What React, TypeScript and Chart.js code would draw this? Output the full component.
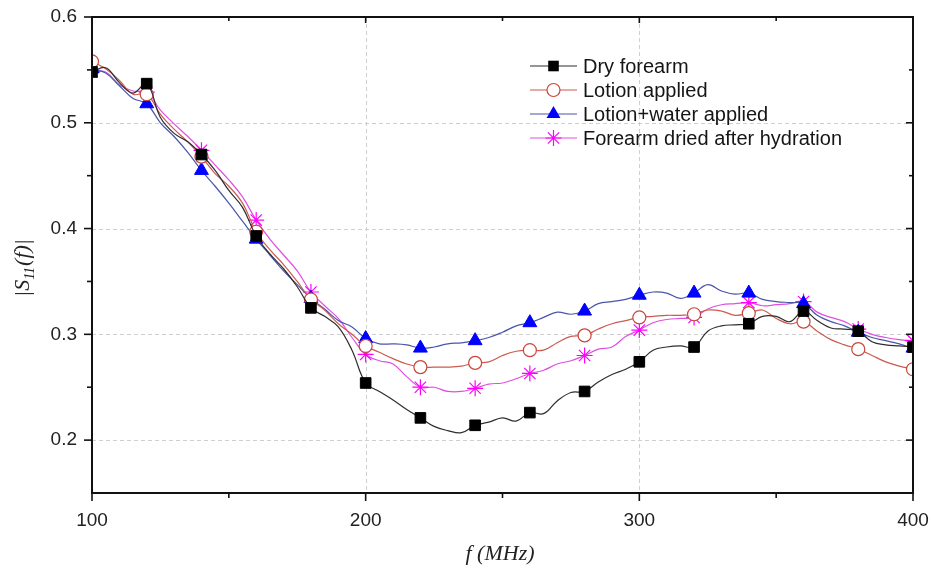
import React, { useEffect, useRef } from "react";
import { Chart, registerables } from "chart.js";
Chart.register(...registerables);

const frequencies = [
  100, 105, 110, 115, 120, 125, 130, 135, 140, 145, 150, 155, 160, 165, 170, 175, 180, 185, 190, 195,
  200, 205, 210, 215, 220, 225, 230, 235, 240, 245, 250, 255, 260, 265, 270, 275, 280, 285, 290, 295,
  300, 305, 310, 315, 320, 325, 330, 335, 340, 345, 350, 355, 360, 365, 370, 375, 380, 385, 390, 395, 400,
];

const dryForearm = [
  0.548, 0.552, 0.538, 0.528, 0.537, 0.505, 0.49, 0.482, 0.47, 0.455, 0.436, 0.42, 0.393, 0.376, 0.362, 0.345, 0.325, 0.317, 0.307, 0.285,
  0.254, 0.246, 0.238, 0.229, 0.221, 0.213, 0.209, 0.207, 0.214, 0.217, 0.221, 0.218, 0.226, 0.225, 0.237, 0.245, 0.246, 0.255, 0.262, 0.267,
  0.274, 0.285, 0.288, 0.289, 0.288, 0.303, 0.308, 0.309, 0.31, 0.317, 0.317, 0.312, 0.322, 0.313, 0.306, 0.305, 0.303, 0.293, 0.29, 0.289, 0.288,
];

const lotionApplied = [
  0.558, 0.551, 0.54, 0.527, 0.527, 0.508, 0.494, 0.482, 0.468, 0.452, 0.44, 0.424, 0.397, 0.38, 0.366, 0.35, 0.333, 0.323, 0.31, 0.3,
  0.289, 0.283, 0.277, 0.272, 0.269, 0.269, 0.269, 0.27, 0.273, 0.274, 0.28, 0.284, 0.285, 0.285, 0.292, 0.298, 0.299, 0.305, 0.31, 0.313,
  0.316, 0.317, 0.318, 0.318, 0.319, 0.323, 0.322, 0.318, 0.32, 0.323, 0.315, 0.31, 0.312, 0.303, 0.295, 0.29, 0.286, 0.28, 0.274, 0.27, 0.267,
];

const lotionWaterApplied = [
  0.551, 0.547, 0.535, 0.523, 0.518, 0.5, 0.487, 0.472, 0.455, 0.44, 0.424, 0.407, 0.39, 0.375, 0.36, 0.347, 0.334, 0.324, 0.313, 0.307,
  0.296, 0.291, 0.291, 0.29, 0.287, 0.288, 0.291, 0.292, 0.294, 0.297, 0.302, 0.308, 0.311, 0.316, 0.321, 0.319, 0.322, 0.329, 0.331, 0.333,
  0.337, 0.34, 0.339, 0.334, 0.339, 0.347, 0.341, 0.338, 0.339, 0.333, 0.331, 0.33, 0.329, 0.318, 0.312, 0.308, 0.302, 0.297, 0.294, 0.291, 0.287,
];

const driedAfterHydration = [
  0.548, 0.548, 0.536, 0.53, 0.529, 0.512, 0.499, 0.487, 0.474, 0.46, 0.446, 0.43, 0.408, 0.39, 0.375, 0.36, 0.34, 0.327, 0.315, 0.297,
  0.281, 0.275, 0.272, 0.26, 0.25, 0.25, 0.246, 0.246, 0.249, 0.253, 0.254, 0.258, 0.263, 0.266, 0.272, 0.275, 0.28, 0.286, 0.288, 0.298,
  0.304, 0.311, 0.314, 0.315, 0.316, 0.324, 0.328, 0.329, 0.33, 0.327, 0.328, 0.329, 0.331, 0.321, 0.316, 0.312, 0.305, 0.3, 0.297, 0.295, 0.294,
];

const markerFrequencies = [100, 120, 140, 160, 180, 200, 220, 240, 260, 280, 300, 320, 340, 360, 380, 400];
const seriesNames = ["Dry forearm", "Lotion applied", "Lotion+water applied", "Forearm dried after hydration"];
const xMajorTicks = [100, 200, 300, 400];
const xMinorTicks = [150, 250, 350];
const yMajorTicks = [0.2, 0.3, 0.4, 0.5, 0.6];
const yMinorTicks = [0.25, 0.35, 0.45, 0.55];
const xGridValues = [200, 300];
const yGridValues = [0.2, 0.3, 0.4, 0.5];

type Style = {
  line: string;
  shape: string;
  radius: number;
  fill: string;
  stroke: string;
  strokeWidth: number;
};

const styles: Style[] = [
  { line: "#2e2e2e", shape: "rect", radius: 7.5, fill: "#000000", stroke: "#000000", strokeWidth: 1 },
  { line: "#cc5a50", shape: "circle", radius: 6.5, fill: "#ffffff", stroke: "#c8463c", strokeWidth: 1.2 },
  { line: "#4a55a8", shape: "triangle", radius: 8, fill: "#0000ff", stroke: "#0000ff", strokeWidth: 1 },
  { line: "#e050e0", shape: "star", radius: 8, fill: "#ff00ff", stroke: "#ff00ff", strokeWidth: 1.2 },
];

function drawMarker(ctx: CanvasRenderingContext2D, s: Style, x: number, y: number) {
  ctx.save();
  ctx.fillStyle = s.fill;
  ctx.strokeStyle = s.stroke;
  ctx.lineWidth = s.strokeWidth;
  const r = s.radius;
  ctx.beginPath();
  if (s.shape === "rect") {
    const h = Math.SQRT1_2 * r;
    ctx.rect(x - h, y - h, 2 * h, 2 * h);
    ctx.fill();
  } else if (s.shape === "circle") {
    ctx.arc(x, y, r, 0, Math.PI * 2);
    ctx.fill();
    ctx.stroke();
  } else if (s.shape === "triangle") {
    ctx.moveTo(x, y - r);
    ctx.lineTo(x + r * 0.866, y + r * 0.5);
    ctx.lineTo(x - r * 0.866, y + r * 0.5);
    ctx.closePath();
    ctx.fill();
  } else {
    for (let k = 0; k < 4; k++) {
      const a = (k * Math.PI) / 4;
      ctx.moveTo(x - r * Math.cos(a), y - r * Math.sin(a));
      ctx.lineTo(x + r * Math.cos(a), y + r * Math.sin(a));
    }
    ctx.stroke();
  }
  ctx.restore();
}

const framePlugin = {
  id: "framePlugin",
  beforeDatasetsDraw(chart: any) {
    const ctx = chart.ctx as CanvasRenderingContext2D;
    const { left, right, top, bottom } = chart.chartArea;
    const xs = chart.scales.x;
    const ys = chart.scales.y;
    ctx.save();
    ctx.strokeStyle = "#cfcfcf";
    ctx.lineWidth = 1;
    ctx.setLineDash([4, 3]);
    xGridValues.forEach((v) => {
      const px = Math.round(xs.getPixelForValue(v)) + 0.5;
      ctx.beginPath();
      ctx.moveTo(px, top);
      ctx.lineTo(px, bottom);
      ctx.stroke();
    });
    yGridValues.forEach((v) => {
      const py = Math.round(ys.getPixelForValue(v)) + 0.5;
      ctx.beginPath();
      ctx.moveTo(left, py);
      ctx.lineTo(right, py);
      ctx.stroke();
    });
    ctx.restore();
  },
  afterDraw(chart: any) {
    const ctx = chart.ctx as CanvasRenderingContext2D;
    const { left, right, top, bottom } = chart.chartArea;
    const xs = chart.scales.x;
    const ys = chart.scales.y;
    ctx.save();
    ctx.strokeStyle = "#111111";
    ctx.lineWidth = 2;
    ctx.strokeRect(left, top, right - left, bottom - top);
    ctx.lineWidth = 1.6;
    const seg = (x1: number, y1: number, x2: number, y2: number) => {
      ctx.beginPath();
      ctx.moveTo(x1, y1);
      ctx.lineTo(x2, y2);
      ctx.stroke();
    };
    xMajorTicks.forEach((v) => {
      const px = xs.getPixelForValue(v);
      seg(px, bottom, px, bottom + 8);
      seg(px, top, px, top + 6);
    });
    xMinorTicks.forEach((v) => {
      const px = xs.getPixelForValue(v);
      seg(px, bottom, px, bottom + 5);
      seg(px, top, px, top + 4);
    });
    yMajorTicks.forEach((v) => {
      const py = ys.getPixelForValue(v);
      seg(left - 8, py, left, py);
      seg(right - 7, py, right, py);
    });
    yMinorTicks.forEach((v) => {
      const py = ys.getPixelForValue(v);
      seg(left - 5, py, left, py);
      seg(right - 4, py, right, py);
    });
    ctx.restore();

    // legend
    ctx.save();
    const rowY = [66, 90, 114, 138];
    seriesNames.forEach((name, i) => {
      const s = styles[i];
      const y = rowY[i];
      ctx.strokeStyle = s.line;
      ctx.lineWidth = 1.2;
      ctx.beginPath();
      ctx.moveTo(530, y);
      ctx.lineTo(577, y);
      ctx.stroke();
      drawMarker(ctx, s, 553.5, y);
      ctx.fillStyle = "#151515";
      ctx.font = '20px "Liberation Sans", Arial, sans-serif';
      ctx.textAlign = "left";
      ctx.textBaseline = "middle";
      ctx.fillText(name, 583, y + 1);
    });
    ctx.restore();

    // axis titles
    ctx.save();
    ctx.fillStyle = "#222222";
    ctx.textBaseline = "alphabetic";
    ctx.textAlign = "left";
    const big = 'italic 22px "Liberation Serif", "Times New Roman", serif';
    const small = 'italic 14px "Liberation Serif", "Times New Roman", serif';
    ctx.font = big;
    const w1 = ctx.measureText("|S").width;
    const w3 = ctx.measureText("(f)|").width;
    ctx.font = small;
    const w2 = ctx.measureText("11").width + 1;
    const total = w1 + w2 + w3;
    ctx.translate(29, 268);
    ctx.rotate(-Math.PI / 2);
    let x0 = -total / 2;
    ctx.font = big;
    ctx.fillText("|S", x0, 0);
    x0 += w1;
    ctx.font = small;
    ctx.fillText("11", x0, 5);
    x0 += w2;
    ctx.font = big;
    ctx.fillText("(f)|", x0, 0);
    ctx.restore();

    ctx.save();
    ctx.fillStyle = "#222222";
    ctx.font = 'italic 22px "Liberation Serif", "Times New Roman", serif';
    ctx.textAlign = "center";
    ctx.textBaseline = "middle";
    ctx.fillText("f (MHz)", 500, 554);
    ctx.restore();
  },
};

export default function App() {
  const ref = useRef<HTMLCanvasElement>(null);
  useEffect(() => {
    const canvas = ref.current;
    if (!canvas) return;
    const isMarker = (c: any) => markerFrequencies.includes(frequencies[c.dataIndex]);
    const series = [dryForearm, lotionApplied, lotionWaterApplied, driedAfterHydration];
    const datasets = series.map((vals, i) => {
      const s = styles[i];
      return {
        label: seriesNames[i],
        data: frequencies.map((f, k) => ({ x: f, y: vals[k] })),
        borderColor: s.line,
        borderWidth: 1.2,
        tension: 0.4,
        fill: false,
        pointStyle: s.shape,
        pointRadius: (c: any) => (isMarker(c) ? s.radius : 0),
        pointHoverRadius: 0,
        pointHitRadius: 0,
        pointBackgroundColor: s.fill,
        pointBorderColor: s.stroke,
        pointBorderWidth: s.strokeWidth,
      };
    });
    const tickFont = { family: '"Liberation Sans", Arial, sans-serif', size: 19 };
    const chart = new Chart(canvas, {
      type: "line",
      data: { datasets },
      options: {
        responsive: false,
        animation: false,
        events: [],
        layout: { autoPadding: false, padding: { left: 0, right: 19, top: 17, bottom: 0 } },
        plugins: { legend: { display: false }, tooltip: { enabled: false } },
        scales: {
          x: {
            type: "linear",
            min: 100,
            max: 400,
            grid: { display: false, drawTicks: false },
            border: { display: false },
            afterBuildTicks: (scale: any) => {
              scale.ticks = xMajorTicks.map((v) => ({ value: v }));
            },
            afterFit: (scale: any) => {
              scale.height = 75;
              scale.paddingLeft = 0;
              scale.paddingRight = 0;
              scale.paddingTop = 0;
              scale.paddingBottom = 0;
            },
            ticks: { color: "#222222", font: tickFont, padding: 16, maxRotation: 0 },
          },
          y: {
            type: "linear",
            min: 0.15,
            max: 0.6,
            grid: { display: false, drawTicks: false },
            border: { display: false },
            afterBuildTicks: (scale: any) => {
              scale.ticks = yMajorTicks.map((v) => ({ value: v }));
            },
            afterFit: (scale: any) => {
              scale.width = 92;
              scale.paddingLeft = 0;
              scale.paddingRight = 0;
              scale.paddingTop = 0;
              scale.paddingBottom = 0;
            },
            ticks: {
              color: "#222222",
              font: tickFont,
              padding: 15,
              callback: (v: any) => Number(v).toFixed(1),
            },
          },
        },
      },
      plugins: [framePlugin],
    } as any);
    return () => chart.destroy();
  }, []);
  return (
    <div style={{ position: "fixed", left: 0, top: 0, width: 932, height: 568, background: "#fff" }}>
      <canvas ref={ref} width={932} height={568} style={{ display: "block", width: 932, height: 568 }} />
    </div>
  );
}
